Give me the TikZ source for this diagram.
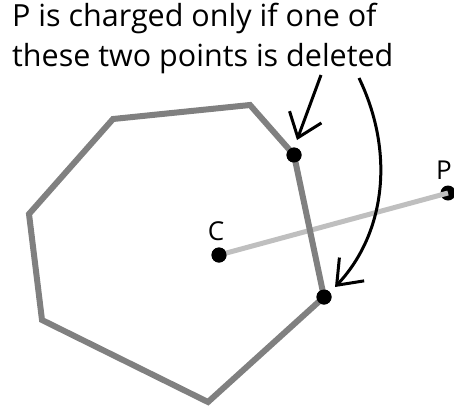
\documentclass[tikz,border=0pt]{standalone}
\usepackage{fontspec}
\setmainfont{Open Sans}
\usetikzlibrary{arrows.meta,positioning}

\begin{document}
\begin{tikzpicture}[
  x=1pt, y=-1pt,
  hull/.style={draw=gray, line width=6pt, line join=miter},
  ray/.style={draw=black!25, line width=5pt},
  dot/.style={circle, fill=black, inner sep=0pt, minimum size=15pt},
  tag/.style={font=\fontsize{26}{30}\selectfont, inner sep=0pt},
  pointer/.style={-{Straight Barb[length=22pt,width=34pt]}, line width=3pt}
]
\useasboundingbox (0,0) rectangle (454,410);
\node[font=\fontsize{30.5}{40}\selectfont, align=left, anchor=north west, inner sep=0pt] (note) at (12,3)
  {P is charged only if one of\\these two points is deleted};
% hull vertices
\coordinate (h1) at (113,119);
\coordinate (h2) at (250,105);
\coordinate (h5) at (208,402);
\coordinate (h6) at (42,320);
\coordinate (h7) at (29,214);
\node[dot] (top) at (294,155) {};
\node[dot] (bot) at (324,297) {};
\node[dot] (c) at (219,255) {};
\node[dot] (p) at (448,193) {};
\node[tag, above=6pt of c, xshift=-3pt] (clabel) {C};
\node[tag, above=6pt of p, xshift=-4pt] (plabel) {P};
\draw[ray] (c.center) -- (p.center);
\draw[hull] (h1) -- (h2) -- (top.center) -- (bot.center) -- (h5) -- (h6) -- (h7) -- cycle;
\node[dot] at (top) {};
\node[dot] at (bot) {};
\node[dot] at (c) {};
% arrows from the text
\coordinate (s1) at (321,75);
\coordinate (e1) at (297,140);
\coordinate (s2) at (359,78);
\coordinate (e2) at (335,287);
\draw[pointer] (s1) -- (e1);
\draw[pointer] (s2) .. controls (396,155) and (384,235) .. (e2);
\end{tikzpicture}
\end{document}
